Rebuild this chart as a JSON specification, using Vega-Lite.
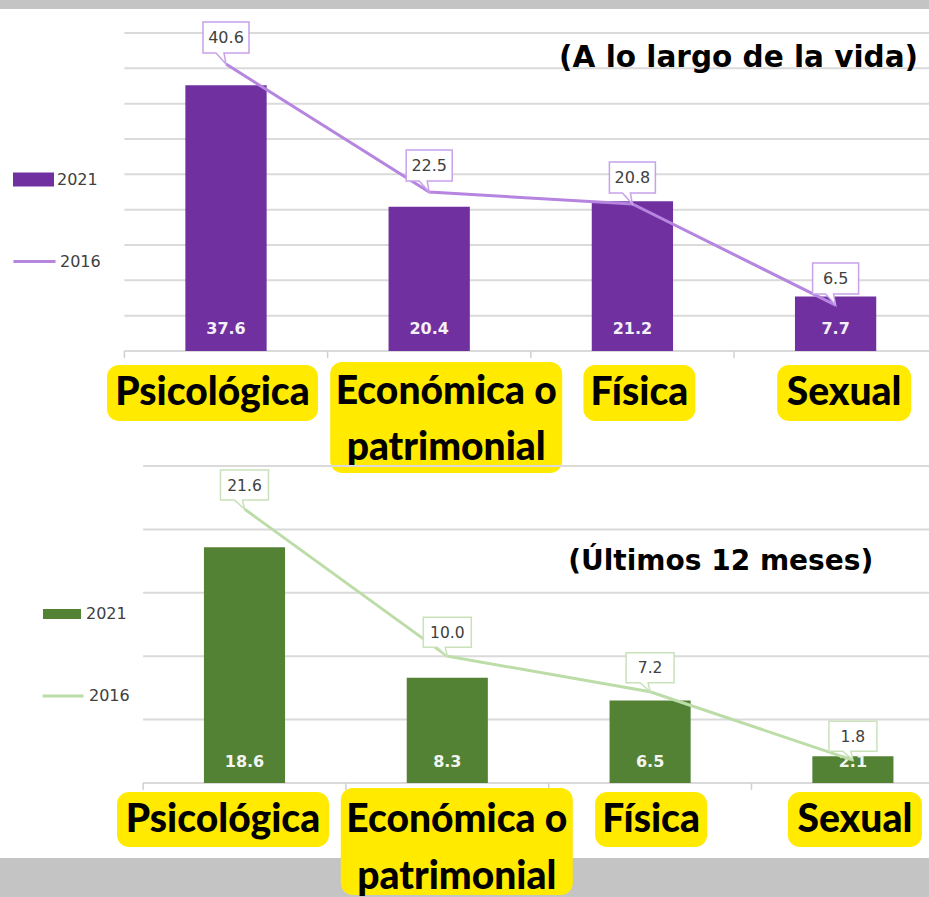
{
  "$schema": "https://vega.github.io/schema/vega-lite/v6.json",
  "background": "#c4c4c4",
  "padding": {"top": 9, "left": 0, "right": 0, "bottom": 2},
  "bounds": "flush",
  "spacing": 0,
  "config": {"view": {"stroke": null, "fill": "white"}},
  "resolve": {"scale": {"fill": "independent", "stroke": "independent", "x": "independent", "y": "independent"}},
  "datasets": {
    "gridTop": [{"nivel": 0}, {"nivel": 5}, {"nivel": 10}, {"nivel": 15}, {"nivel": 20}, {"nivel": 25}, {"nivel": 30}, {"nivel": 35}, {"nivel": 40}, {"nivel": 45}],
    "gridBottom": [{"nivel": 0}, {"nivel": 5}, {"nivel": 10}, {"nivel": 15}, {"nivel": 20}, {"nivel": 25}]
  },
  "vconcat": [
    {
      "width": 929,
      "height": 465,
      "data": {"values": [
        {"cat": "Psicológica", "v2021": 37.6, "v2016": 40.6},
        {"cat": "Económica o patrimonial", "v2021": 20.4, "v2016": 22.5},
        {"cat": "Física", "v2021": 21.2, "v2016": 20.8},
        {"cat": "Sexual", "v2021": 7.7, "v2016": 6.5}
      ]},
      "layer": [
        {
          "data": {"name": "gridTop"},
          "mark": {"type": "rule", "color": "#dadada", "strokeWidth": 2},
          "encoding": {
            "y": {"field": "nivel", "type": "quantitative", "scale": {"domain": [0, 45], "range": [342, 24], "nice": false, "zero": false}, "axis": null},
            "x": {"datum": "Psicológica", "type": "nominal", "bandPosition": 0, "scale": {"domain": ["Psicológica", "Económica o patrimonial", "Física", "Sexual"], "range": [124.4, 937.2], "paddingInner": 0, "paddingOuter": 0}, "axis": null},
            "x2": {"value": "width"}
          }
        },
        {
          "mark": {"type": "rule", "color": "#d0d0d0", "strokeWidth": 1.5},
          "encoding": {
            "x": {"field": "cat", "type": "nominal", "bandPosition": 0},
            "y": {"datum": 0},
            "y2": {"datum": -1}
          }
        },
        {
          "mark": {"type": "bar", "width": {"band": 0.4}},
          "encoding": {
            "x": {"field": "cat", "type": "nominal"},
            "y": {"field": "v2021", "type": "quantitative"},
            "fill": {"datum": "2021", "type": "nominal", "scale": {"range": ["#7030a0"]},
              "legend": {"orient": "none", "legendX": 13, "legendY": 150, "title": null, "symbolType": "M-1,-0.34H1V0.34H-1Z", "symbolSize": 1681, "symbolStrokeWidth": 0, "labelFont": "DejaVu Sans", "labelFontSize": 16, "labelColor": "#404040", "labelOffset": 3, "padding": 0}}
          }
        },
        {
          "mark": {"type": "text", "font": "DejaVu Sans", "fontWeight": "bold", "fontSize": 16, "color": "#f4f0f8", "baseline": "middle", "dy": -22.5},
          "encoding": {
            "x": {"field": "cat", "type": "nominal"},
            "y": {"datum": 0},
            "text": {"field": "v2021", "type": "quantitative", "format": ".1f"}
          }
        },
        {
          "mark": {"type": "line", "strokeWidth": 3},
          "encoding": {
            "x": {"field": "cat", "type": "nominal"},
            "y": {"field": "v2016", "type": "quantitative"},
            "stroke": {"datum": "2016", "type": "nominal", "scale": {"range": ["#b585e0"]},
              "legend": {"orient": "none", "legendX": 12, "legendY": 230, "title": null, "symbolType": "stroke", "symbolSize": 1764, "symbolStrokeWidth": 3, "labelFont": "DejaVu Sans", "labelFontSize": 16, "labelColor": "#404040", "labelOffset": 3, "padding": 0}}
          }
        },
        {
          "mark": {"type": "point", "shape": "M-23,-42H23V-11H-2L0,0L-10,-11H-23Z", "size": 4, "filled": true, "fill": "white", "stroke": "#c7a1ea", "strokeWidth": 1.5, "opacity": 1},
          "encoding": {
            "x": {"field": "cat", "type": "nominal"},
            "y": {"field": "v2016", "type": "quantitative"}
          }
        },
        {
          "mark": {"type": "text", "font": "DejaVu Sans", "fontSize": 16, "color": "#404040", "baseline": "middle", "dy": -26},
          "encoding": {
            "x": {"field": "cat", "type": "nominal"},
            "y": {"field": "v2016", "type": "quantitative"},
            "text": {"field": "v2016", "type": "quantitative", "format": ".1f"}
          }
        },
        {
          "transform": [{"filter": "datum.cat == 'Psicológica'"}],
          "layer": [
            {"mark": {"type": "bar", "color": "#ffea00", "cornerRadius": 12, "width": 211, "xOffset": -13.5},
             "encoding": {"x": {"field": "cat", "type": "nominal"}, "y": {"datum": -1.98}, "y2": {"datum": -9.91}}},
            {"mark": {"type": "text", "font": "Lato", "fontWeight": 900, "fontSize": 39, "color": "black", "baseline": "middle", "dx": -13.5},
             "encoding": {"x": {"field": "cat", "type": "nominal"}, "y": {"datum": -5.94}, "text": {"field": "cat"}}}
          ]
        },
        {
          "transform": [{"filter": "datum.cat == 'Económica o patrimonial'"}],
          "layer": [
            {"mark": {"type": "bar", "color": "#ffea00", "cornerRadius": 12, "width": 232, "xOffset": 17},
             "encoding": {"x": {"field": "cat", "type": "nominal"}, "y": {"datum": -1.56}, "y2": {"datum": -17.26}}},
            {"mark": {"type": "text", "font": "Lato", "fontWeight": 900, "fontSize": 39, "color": "black", "baseline": "middle", "dx": 17, "lineHeight": 55.5, "text": ["Económica o", "patrimonial"]},
             "encoding": {"x": {"field": "cat", "type": "nominal"}, "y": {"datum": -5.87}}}
          ]
        },
        {
          "transform": [{"filter": "datum.cat == 'Física'"}],
          "layer": [
            {"mark": {"type": "bar", "color": "#ffea00", "cornerRadius": 12, "width": 112, "xOffset": 7},
             "encoding": {"x": {"field": "cat", "type": "nominal"}, "y": {"datum": -1.98}, "y2": {"datum": -9.91}}},
            {"mark": {"type": "text", "font": "Lato", "fontWeight": 900, "fontSize": 39, "color": "black", "baseline": "middle", "dx": 7},
             "encoding": {"x": {"field": "cat", "type": "nominal"}, "y": {"datum": -5.94}, "text": {"field": "cat"}}}
          ]
        },
        {
          "transform": [{"filter": "datum.cat == 'Sexual'"}],
          "layer": [
            {"mark": {"type": "bar", "color": "#ffea00", "cornerRadius": 12, "width": 134, "xOffset": 8.5},
             "encoding": {"x": {"field": "cat", "type": "nominal"}, "y": {"datum": -1.98}, "y2": {"datum": -9.91}}},
            {"mark": {"type": "text", "font": "Lato", "fontWeight": 900, "fontSize": 39, "color": "black", "baseline": "middle", "dx": 8.5},
             "encoding": {"x": {"field": "cat", "type": "nominal"}, "y": {"datum": -5.94}, "text": {"field": "cat"}}}
          ]
        },
        {
          "data": {"values": [{"titulo": "(A lo largo de la vida)"}]},
          "mark": {"type": "text", "font": "DejaVu Sans", "fontWeight": "bold", "fontSize": 29.5, "color": "black", "align": "right", "baseline": "middle"},
          "encoding": {
            "x": {"datum": "Sexual", "type": "nominal", "bandPosition": 0.906},
            "y": {"datum": 41.4},
            "text": {"field": "titulo"}
          }
        }
      ]
    },
    {
      "width": 929,
      "height": 384,
      "data": {"values": [
        {"cat": "Psicológica", "v2021": 18.6, "v2016": 21.6},
        {"cat": "Económica o patrimonial", "v2021": 8.3, "v2016": 10.0},
        {"cat": "Física", "v2021": 6.5, "v2016": 7.2},
        {"cat": "Sexual", "v2021": 2.1, "v2016": 1.8}
      ]},
      "layer": [
        {
          "data": {"name": "gridBottom"},
          "mark": {"type": "rule", "color": "#dadada", "strokeWidth": 2},
          "encoding": {
            "y": {"field": "nivel", "type": "quantitative", "scale": {"domain": [0, 25], "range": [309, -8], "nice": false, "zero": false}, "axis": null},
            "x": {"datum": "Psicológica", "type": "nominal", "bandPosition": 0, "scale": {"domain": ["Psicológica", "Económica o patrimonial", "Física", "Sexual"], "range": [143.1, 954.3], "paddingInner": 0, "paddingOuter": 0}, "axis": null},
            "x2": {"value": "width"}
          }
        },
        {
          "mark": {"type": "rule", "color": "#d0d0d0", "strokeWidth": 1.5},
          "encoding": {
            "x": {"field": "cat", "type": "nominal", "bandPosition": 0},
            "y": {"datum": 0},
            "y2": {"datum": -0.55}
          }
        },
        {
          "mark": {"type": "bar", "width": {"band": 0.4}},
          "encoding": {
            "x": {"field": "cat", "type": "nominal"},
            "y": {"field": "v2021", "type": "quantitative"},
            "fill": {"datum": "2021", "type": "nominal", "scale": {"range": ["#548235"]},
              "legend": {"orient": "none", "legendX": 43, "legendY": 121, "title": null, "symbolType": "M-1,-0.26H1V0.26H-1Z", "symbolSize": 1444, "symbolStrokeWidth": 0, "labelFont": "DejaVu Sans", "labelFontSize": 16, "labelColor": "#404040", "labelOffset": 5, "padding": 0}}
          }
        },
        {
          "mark": {"type": "text", "font": "DejaVu Sans", "fontWeight": "bold", "fontSize": 16, "color": "#f2f6ee", "baseline": "middle", "dy": -21},
          "encoding": {
            "x": {"field": "cat", "type": "nominal"},
            "y": {"datum": 0},
            "text": {"field": "v2021", "type": "quantitative", "format": ".1f"}
          }
        },
        {
          "mark": {"type": "line", "strokeWidth": 3},
          "encoding": {
            "x": {"field": "cat", "type": "nominal"},
            "y": {"field": "v2016", "type": "quantitative"},
            "stroke": {"datum": "2016", "type": "nominal", "scale": {"range": ["#bcdca8"]},
              "legend": {"orient": "none", "legendX": 41, "legendY": 200, "title": null, "symbolType": "stroke", "symbolSize": 1681, "symbolStrokeWidth": 3, "labelFont": "DejaVu Sans", "labelFontSize": 16, "labelColor": "#404040", "labelOffset": 4, "padding": 0}}
          }
        },
        {
          "mark": {"type": "point", "shape": "M-24,-39H24V-9H-2L0,0L-10,-9H-24Z", "size": 4, "filled": true, "fill": "white", "stroke": "#c9e2ba", "strokeWidth": 1.5, "opacity": 1},
          "encoding": {
            "x": {"field": "cat", "type": "nominal"},
            "y": {"field": "v2016", "type": "quantitative"}
          }
        },
        {
          "mark": {"type": "text", "font": "DejaVu Sans", "fontSize": 15.5, "color": "#404040", "baseline": "middle", "dy": -23.5},
          "encoding": {
            "x": {"field": "cat", "type": "nominal"},
            "y": {"field": "v2016", "type": "quantitative"},
            "text": {"field": "v2016", "type": "quantitative", "format": ".1f"}
          }
        },
        {
          "transform": [{"filter": "datum.cat == 'Psicológica'"}],
          "layer": [
            {"mark": {"type": "bar", "color": "#ffea00", "cornerRadius": 12, "width": 212, "xOffset": -21.5},
             "encoding": {"x": {"field": "cat", "type": "nominal"}, "y": {"datum": -0.71}, "y2": {"datum": -5.05}}},
            {"mark": {"type": "text", "font": "Lato", "fontWeight": 900, "fontSize": 39, "color": "black", "baseline": "middle", "dx": -21.5},
             "encoding": {"x": {"field": "cat", "type": "nominal"}, "y": {"datum": -2.92}, "text": {"field": "cat"}}}
          ]
        },
        {
          "transform": [{"filter": "datum.cat == 'Económica o patrimonial'"}],
          "layer": [
            {"mark": {"type": "bar", "color": "#ffea00", "cornerRadius": 12, "width": 232, "xOffset": 9.5},
             "encoding": {"x": {"field": "cat", "type": "nominal"}, "y": {"datum": -0.39}, "y2": {"datum": -8.83}}},
            {"mark": {"type": "text", "font": "Lato", "fontWeight": 900, "fontSize": 39, "color": "black", "baseline": "middle", "dx": 9.5, "lineHeight": 57, "text": ["Económica o", "patrimonial"]},
             "encoding": {"x": {"field": "cat", "type": "nominal"}, "y": {"datum": -2.92}}}
          ]
        },
        {
          "transform": [{"filter": "datum.cat == 'Física'"}],
          "layer": [
            {"mark": {"type": "bar", "color": "#ffea00", "cornerRadius": 12, "width": 112, "xOffset": 1},
             "encoding": {"x": {"field": "cat", "type": "nominal"}, "y": {"datum": -0.71}, "y2": {"datum": -5.05}}},
            {"mark": {"type": "text", "font": "Lato", "fontWeight": 900, "fontSize": 39, "color": "black", "baseline": "middle", "dx": 1},
             "encoding": {"x": {"field": "cat", "type": "nominal"}, "y": {"datum": -2.92}, "text": {"field": "cat"}}}
          ]
        },
        {
          "transform": [{"filter": "datum.cat == 'Sexual'"}],
          "layer": [
            {"mark": {"type": "bar", "color": "#ffea00", "cornerRadius": 12, "width": 134, "xOffset": 2},
             "encoding": {"x": {"field": "cat", "type": "nominal"}, "y": {"datum": -0.71}, "y2": {"datum": -5.05}}},
            {"mark": {"type": "text", "font": "Lato", "fontWeight": 900, "fontSize": 39, "color": "black", "baseline": "middle", "dx": 2},
             "encoding": {"x": {"field": "cat", "type": "nominal"}, "y": {"datum": -2.92}, "text": {"field": "cat"}}}
          ]
        },
        {
          "data": {"values": [{"titulo": "(Últimos 12 meses)"}]},
          "mark": {"type": "text", "font": "DejaVu Sans", "fontWeight": "bold", "fontSize": 28, "color": "black", "align": "right", "baseline": "middle"},
          "encoding": {
            "x": {"datum": "Sexual", "type": "nominal", "bandPosition": 0.6},
            "y": {"datum": 17.43},
            "text": {"field": "titulo"}
          }
        }
      ]
    }
  ]
}
